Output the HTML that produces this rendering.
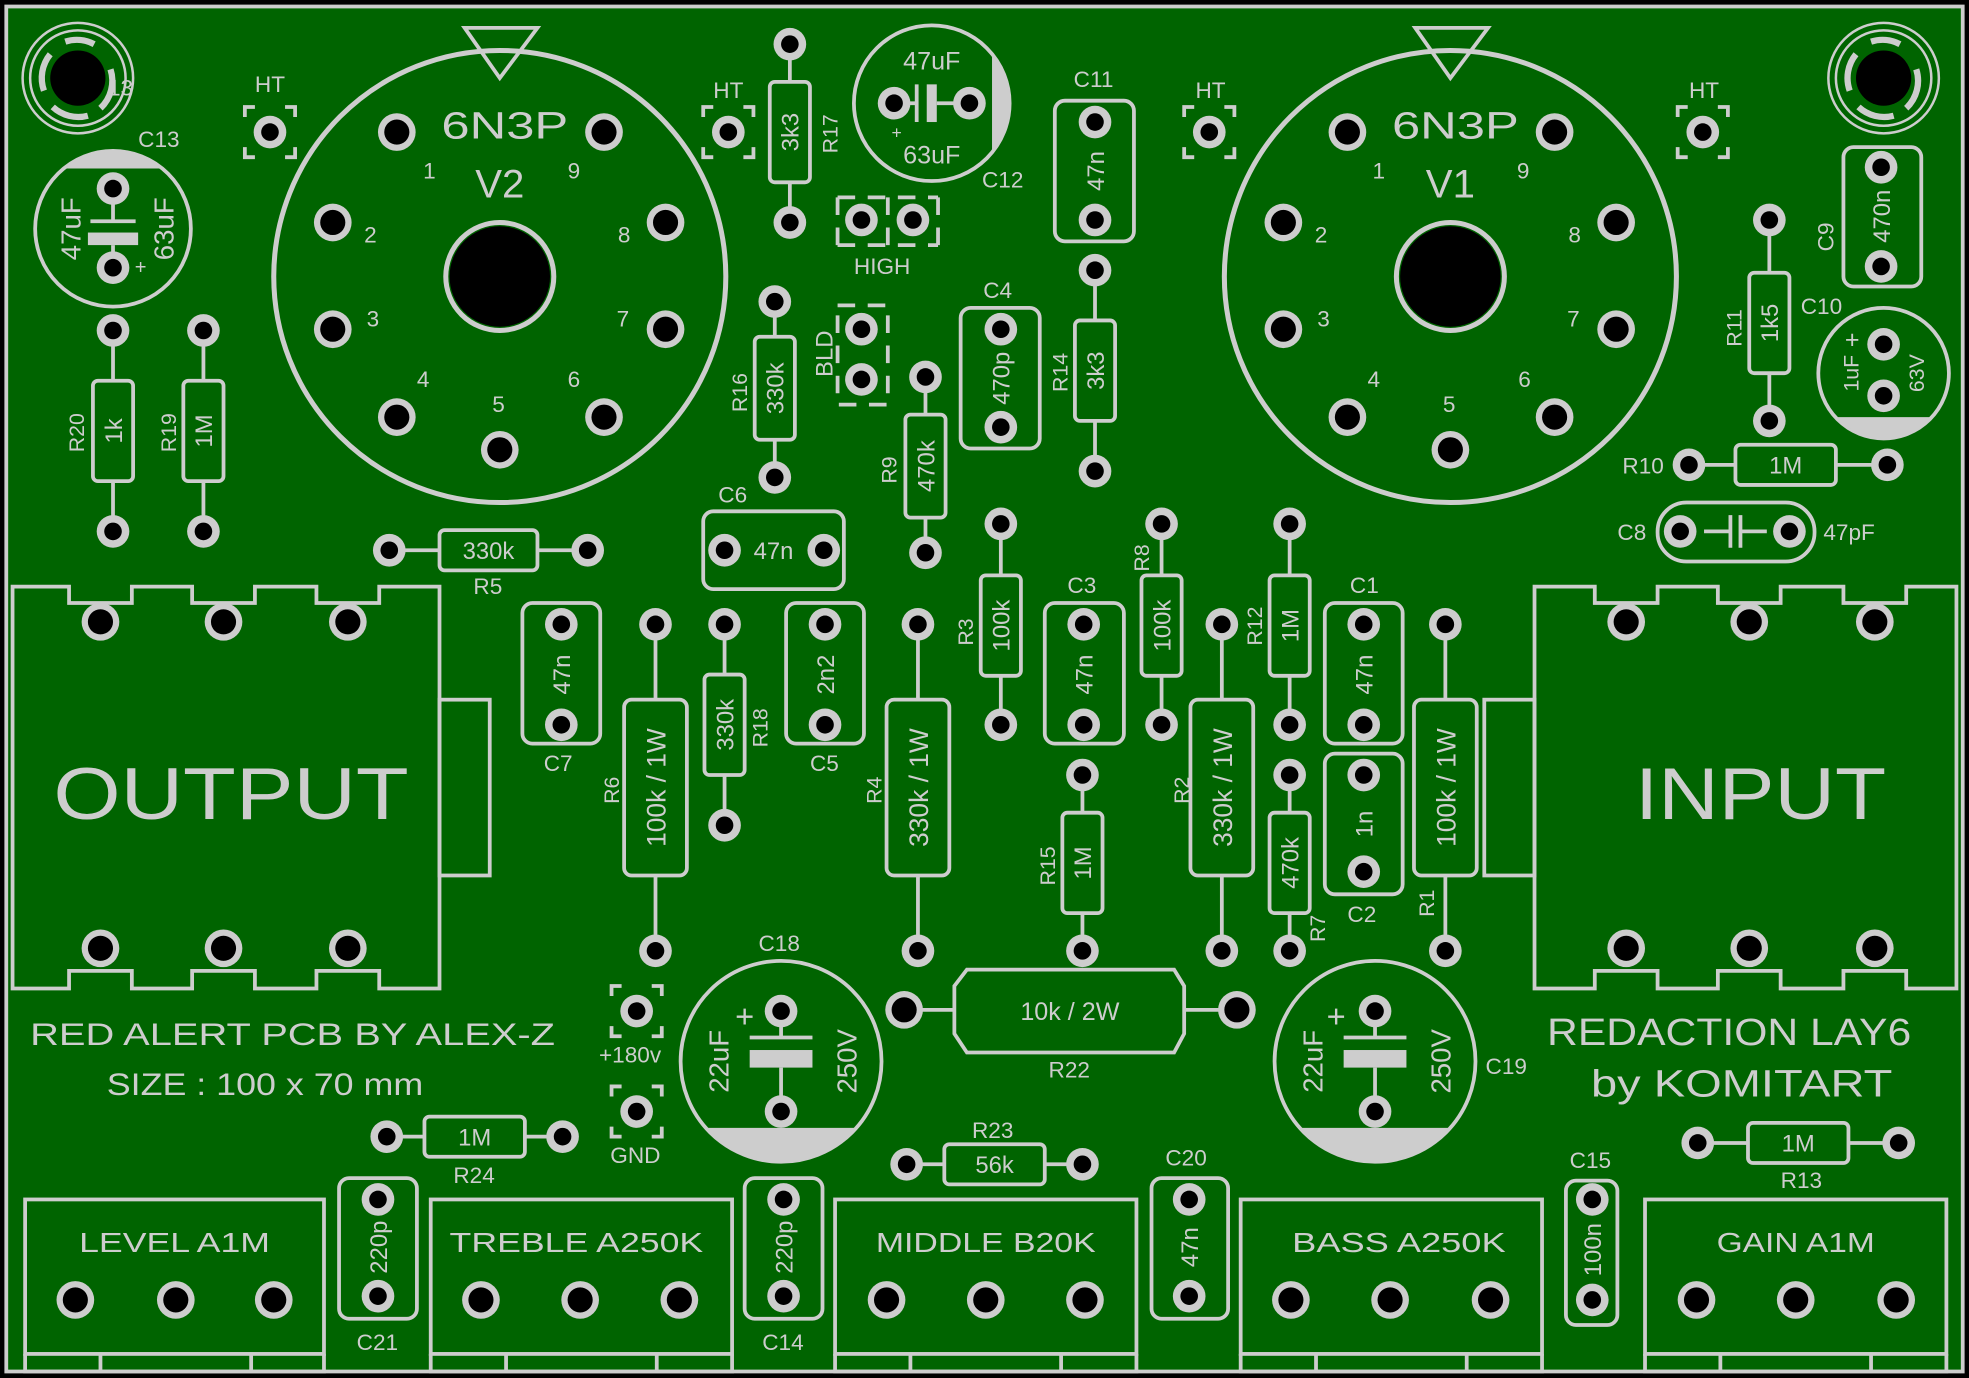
<!DOCTYPE html>
<html><head><meta charset="utf-8"><style>
html,body{margin:0;padding:0;background:#000}
svg{display:block}
text{font-family:"Liberation Sans","DejaVu Sans",sans-serif;fill:#cdcdcd}
</style></head><body>
<svg width="1969" height="1378" viewBox="0 0 1568 1097" xmlns="http://www.w3.org/2000/svg">
<defs>
<g id="p"><circle r="13" fill="#cdcdcd"/><circle r="7" fill="#000"/></g>
<g id="bp"><circle r="15" fill="#cdcdcd"/><circle r="10" fill="#000"/></g>
<g id="sq"><use href="#p"/><path d="M-20,-12V-20H-12M12,-20H20V-12M20,12V20H12M-12,20H-20V12" fill="none" stroke="#cdcdcd" stroke-width="3"/></g>
</defs>
<rect width="1568" height="1097" fill="#000"/>
<rect x="5" y="5" width="1558" height="1087" fill="#006400" stroke="#cdcdcd" stroke-width="3"/>
<g fill="none" stroke="#cdcdcd" stroke-width="3">
<circle cx="62" cy="62" r="44" stroke-width="2"/><circle cx="62" cy="62" r="38" stroke-width="2"/>
<circle cx="1500" cy="62" r="44" stroke-width="2"/><circle cx="1500" cy="62" r="38" stroke-width="2"/>
<path d="M52,33A30,30 0 0 1 75,35M88,55A30,30 0 0 1 80,86M70,92A30,30 0 0 1 42,85M35,72A30,30 0 0 1 40,43" stroke-width="5"/>
<path d="M1490,33A30,30 0 0 1 1513,35M1526,55A30,30 0 0 1 1518,86M1508,92A30,30 0 0 1 1480,85M1473,72A30,30 0 0 1 1478,43" stroke-width="5"/>
<circle cx="398" cy="220" r="180" stroke-width="4"/><circle cx="398" cy="220" r="43" stroke-width="4"/>
<circle cx="1155" cy="220" r="180" stroke-width="4"/><circle cx="1155" cy="220" r="43" stroke-width="4"/>
<path d="M370,22H428L398,62Z M1127,22H1185L1155,62Z"/>
<path d="M10,467H55V480H105V467H153V480H203V467H252V480H302V467H350V787H302V773H252V787H203V773H153V787H105V773H55V787H10Z"/>
<rect x="350" y="557" width="40" height="140"/>
<path d="M1222,467H1270V480H1320V467H1368V480H1418V467H1468V480H1518V467H1558V787H1518V773H1468V787H1418V773H1368V787H1320V773H1270V787H1222Z"/>
<rect x="1182" y="557" width="40" height="140"/>
<rect x="20" y="955" width="238" height="123"/><path d="M20,1078V1092H258V1078M80,1078V1092M200,1078V1092"/>
<rect x="343" y="955" width="240" height="123"/><path d="M343,1078V1092H583V1078M403,1078V1092M523,1078V1092"/>
<rect x="665" y="955" width="240" height="123"/><path d="M665,1078V1092H905V1078M725,1078V1092M845,1078V1092"/>
<rect x="988" y="955" width="240" height="123"/><path d="M988,1078V1092H1228V1078M1048,1078V1092M1168,1078V1092"/>
<rect x="1310" y="955" width="240" height="123"/><path d="M1310,1078V1092H1550V1078M1370,1078V1092M1490,1078V1092"/>
<path d="M90,263V423M162,263V423M629,35V177M617,240V380M737,300V440M872,215V375M1409,175V335M797,417V577M925,417V577M1027,417V577M577,497V657M862,617V757M1027,617V757M522,497V757M731,497V757M973,497V757M1151,497V757"/>
<path d="M310,438H468M1345,370H1503M308,905H448M722,927H862M1352,910H1512M720,804H985" stroke-width="3"/>
</g>
<g fill="#006400" stroke="#cdcdcd" stroke-width="3">
<rect x="74" y="303" width="32" height="80" rx="4"/><rect x="146" y="303" width="32" height="80" rx="4"/>
<rect x="613" y="65" width="32" height="80" rx="4"/><rect x="601" y="268" width="32" height="82" rx="4"/>
<rect x="721" y="330" width="32" height="82" rx="4"/><rect x="856" y="255" width="32" height="80" rx="4"/>
<rect x="1393" y="217" width="32" height="80" rx="4"/><rect x="781" y="458" width="32" height="80" rx="4"/>
<rect x="909" y="458" width="32" height="80" rx="4"/><rect x="1011" y="458" width="32" height="80" rx="4"/>
<rect x="561" y="537" width="32" height="80" rx="4"/><rect x="846" y="647" width="32" height="80" rx="4"/>
<rect x="1011" y="647" width="32" height="80" rx="4"/>
<rect x="497" y="557" width="50" height="140" rx="6"/><rect x="706" y="557" width="50" height="140" rx="6"/>
<rect x="948" y="557" width="50" height="140" rx="6"/><rect x="1126" y="557" width="50" height="140" rx="6"/>
<rect x="350" y="422" width="78" height="32" rx="4"/><rect x="1382" y="354" width="80" height="32" rx="4"/>
<rect x="338" y="889" width="80" height="32" rx="4"/><rect x="752" y="911" width="80" height="32" rx="4"/>
<rect x="1392" y="894" width="80" height="32" rx="4"/>
<path d="M770,772H935L943,785V823L935,838H770L760,823V785Z"/>
<rect x="840" y="80" width="63" height="112" rx="8"/><rect x="1468" y="117" width="62" height="111" rx="8"/>
<rect x="765" y="245" width="63" height="112" rx="8"/><rect x="560" y="407" width="112" height="62" rx="8"/>
<rect x="416" y="480" width="62" height="112" rx="8"/><rect x="626" y="480" width="62" height="112" rx="8"/>
<rect x="832" y="480" width="63" height="112" rx="8"/><rect x="1055" y="480" width="62" height="112" rx="8"/>
<rect x="1055" y="600" width="62" height="112" rx="8"/><rect x="270" y="938" width="62" height="112" rx="8"/>
<rect x="593" y="938" width="62" height="112" rx="8"/><rect x="917" y="938" width="61" height="112" rx="8"/>
<rect x="1247" y="940" width="41" height="115" rx="8"/>
<rect x="1320" y="400" width="125" height="47" rx="23"/>
<circle cx="742" cy="82" r="62"/><circle cx="90" cy="182" r="62"/><circle cx="1500" cy="297" r="52"/>
<circle cx="622" cy="845" r="80"/><circle cx="1095" cy="845" r="80"/>
</g>
<g fill="#cdcdcd">
<path d="M790,42A62,62 0 0 1 790,122Z"/>
<path d="M52,134A62,62 0 0 1 128,134Z"/>
<path d="M1462,332A52,52 0 0 0 1538,332Z"/>
<path d="M562,898A80,80 0 0 0 682,898Z"/>
<path d="M1035,898A80,80 0 0 0 1155,898Z"/>
<rect x="597" y="836" width="50" height="14"/><rect x="1070" y="836" width="50" height="14"/>
<rect x="70" y="185" width="40" height="10"/><rect x="738" y="67" width="8" height="30"/>
</g>
<g stroke="#cdcdcd" stroke-width="3" fill="none">
<path d="M597,826H647M622,805V826M622,850V885M1070,826H1120M1095,805V826M1095,850V885M72,176H108M90,150V176M90,195V213M730,67V97M712,82H730M746,82H772"/>
<path d="M1357,423H1378M1378,410V436M1386,410V436M1386,423H1407"/>
<path d="M667,157V195M747,157V195M707,157V195M667,157H747M667,195H747" stroke-dasharray="14 10"/>
<path d="M667,243H707V322H667Z" stroke-dasharray="14 10"/>
</g>
<circle cx="62" cy="62" r="22" fill="#000"/><circle cx="1500" cy="62" r="22" fill="#000"/>
<circle cx="398" cy="220" r="40" fill="#000"/><circle cx="1155" cy="220" r="40" fill="#000"/>
<g>
<use href="#bp" x="316" y="105"/><use href="#bp" x="481" y="105"/><use href="#bp" x="265" y="177"/><use href="#bp" x="530" y="177"/>
<use href="#bp" x="265" y="262"/><use href="#bp" x="530" y="262"/><use href="#bp" x="316" y="332"/><use href="#bp" x="481" y="332"/><use href="#bp" x="398" y="358"/>
<use href="#bp" x="1073" y="105"/><use href="#bp" x="1238" y="105"/><use href="#bp" x="1022" y="177"/><use href="#bp" x="1287" y="177"/>
<use href="#bp" x="1022" y="262"/><use href="#bp" x="1287" y="262"/><use href="#bp" x="1073" y="332"/><use href="#bp" x="1238" y="332"/><use href="#bp" x="1155" y="358"/>
<use href="#bp" x="80" y="495"/><use href="#bp" x="178" y="495"/><use href="#bp" x="277" y="495"/>
<use href="#bp" x="80" y="755"/><use href="#bp" x="178" y="755"/><use href="#bp" x="277" y="755"/>
<use href="#bp" x="1295" y="495"/><use href="#bp" x="1393" y="495"/><use href="#bp" x="1493" y="495"/>
<use href="#bp" x="1295" y="755"/><use href="#bp" x="1393" y="755"/><use href="#bp" x="1493" y="755"/>
<use href="#bp" x="60" y="1035"/><use href="#bp" x="140" y="1035"/><use href="#bp" x="218" y="1035"/>
<use href="#bp" x="383" y="1035"/><use href="#bp" x="462" y="1035"/><use href="#bp" x="541" y="1035"/>
<use href="#bp" x="706" y="1035"/><use href="#bp" x="785" y="1035"/><use href="#bp" x="864" y="1035"/>
<use href="#bp" x="1028" y="1035"/><use href="#bp" x="1107" y="1035"/><use href="#bp" x="1187" y="1035"/>
<use href="#bp" x="1351" y="1035"/><use href="#bp" x="1430" y="1035"/><use href="#bp" x="1510" y="1035"/>
<use href="#bp" x="720" y="804"/><use href="#bp" x="985" y="804"/>
</g>
<g>
<use href="#p" x="90" y="263"/><use href="#p" x="90" y="423"/><use href="#p" x="162" y="263"/><use href="#p" x="162" y="423"/>
<use href="#p" x="629" y="35"/><use href="#p" x="629" y="177"/><use href="#p" x="617" y="240"/><use href="#p" x="617" y="380"/>
<use href="#p" x="737" y="300"/><use href="#p" x="737" y="440"/><use href="#p" x="872" y="215"/><use href="#p" x="872" y="375"/>
<use href="#p" x="1409" y="175"/><use href="#p" x="1409" y="335"/><use href="#p" x="797" y="417"/><use href="#p" x="797" y="577"/>
<use href="#p" x="925" y="417"/><use href="#p" x="925" y="577"/><use href="#p" x="1027" y="417"/><use href="#p" x="1027" y="577"/>
<use href="#p" x="577" y="497"/><use href="#p" x="577" y="657"/><use href="#p" x="862" y="617"/><use href="#p" x="862" y="757"/>
<use href="#p" x="1027" y="617"/><use href="#p" x="1027" y="757"/><use href="#p" x="522" y="497"/><use href="#p" x="522" y="757"/>
<use href="#p" x="731" y="497"/><use href="#p" x="731" y="757"/><use href="#p" x="973" y="497"/><use href="#p" x="973" y="757"/>
<use href="#p" x="1151" y="497"/><use href="#p" x="1151" y="757"/>
<use href="#p" x="310" y="438"/><use href="#p" x="468" y="438"/><use href="#p" x="1345" y="370"/><use href="#p" x="1503" y="370"/>
<use href="#p" x="308" y="905"/><use href="#p" x="448" y="905"/><use href="#p" x="722" y="927"/><use href="#p" x="862" y="927"/>
<use href="#p" x="1352" y="910"/><use href="#p" x="1512" y="910"/>
<use href="#p" x="872" y="97"/><use href="#p" x="872" y="175"/><use href="#p" x="1498" y="133"/><use href="#p" x="1498" y="212"/>
<use href="#p" x="797" y="262"/><use href="#p" x="797" y="340"/><use href="#p" x="577" y="438"/><use href="#p" x="656" y="438"/>
<use href="#p" x="447" y="497"/><use href="#p" x="447" y="577"/><use href="#p" x="657" y="497"/><use href="#p" x="657" y="577"/>
<use href="#p" x="863" y="497"/><use href="#p" x="863" y="577"/><use href="#p" x="1086" y="497"/><use href="#p" x="1086" y="577"/>
<use href="#p" x="1086" y="617"/><use href="#p" x="1086" y="694"/><use href="#p" x="301" y="955"/><use href="#p" x="301" y="1032"/>
<use href="#p" x="624" y="955"/><use href="#p" x="624" y="1032"/><use href="#p" x="947" y="955"/><use href="#p" x="947" y="1032"/>
<use href="#p" x="1268" y="955"/><use href="#p" x="1268" y="1035"/><use href="#p" x="1338" y="423"/><use href="#p" x="1425" y="423"/>
<use href="#p" x="712" y="82"/><use href="#p" x="772" y="82"/><use href="#p" x="90" y="150"/><use href="#p" x="90" y="213"/>
<use href="#p" x="1500" y="274"/><use href="#p" x="1500" y="315"/><use href="#p" x="622" y="805"/><use href="#p" x="622" y="885"/>
<use href="#p" x="1095" y="805"/><use href="#p" x="1095" y="885"/>
<use href="#p" x="686" y="175"/><use href="#p" x="727" y="175"/><use href="#p" x="686" y="262"/><use href="#p" x="686" y="302"/>
<use href="#sq" x="215" y="105"/><use href="#sq" x="580" y="105"/><use href="#sq" x="963" y="105"/><use href="#sq" x="1356" y="105"/>
<use href="#sq" x="507" y="805"/><use href="#sq" x="507" y="885"/>
</g>
<g font-size="18">
<text x="203" y="73">HT</text><text x="568" y="78">HT</text><text x="952" y="78">HT</text><text x="1345" y="78">HT</text>
<text x="110" y="117">C13</text><text x="855" y="69">C11</text><text x="782" y="149">C12</text><text x="783" y="237">C4</text>
<text x="1432" y="188" transform="rotate(-90 1452 180)">C9</text><text x="1434" y="250">C10</text>
<text x="572" y="400">C6</text><text x="850" y="472">C3</text><text x="1075" y="472">C1</text>
<text x="433" y="614">C7</text><text x="645" y="614">C5</text><text x="1073" y="734">C2</text>
<text x="604" y="757">C18</text><text x="1183" y="855">C19</text><text x="928" y="928">C20</text><text x="1250" y="930">C15</text>
<text x="284" y="1075">C21</text><text x="607" y="1075">C14</text><text x="1288" y="430">C8</text><text x="1452" y="430">47pF</text>
<text x="377" y="473">R5</text><text x="1292" y="377">R10</text><text x="361" y="942">R24</text><text x="774" y="906">R23</text>
<text x="1418" y="946">R13</text><text x="835" y="858">R22</text>
<text x="477" y="846">+180v</text>
<text x="486" y="926">GND</text>
<text x="680" y="218">HIGH</text>
</g>
<g font-size="17">
<text transform="translate(67,360) rotate(-90)">R20</text><text transform="translate(140,360) rotate(-90)">R19</text>
<text transform="translate(667,122) rotate(-90)">R17</text><text transform="translate(595,328) rotate(-90)">R16</text>
<text transform="translate(714,385) rotate(-90)">R9</text><text transform="translate(850,312) rotate(-90)">R14</text>
<text transform="translate(1387,276) rotate(-90)">R11</text><text transform="translate(775,514) rotate(-90)">R3</text>
<text transform="translate(915,455) rotate(-90)">R8</text><text transform="translate(1005,514) rotate(-90)">R12</text>
<text transform="translate(611,595) rotate(-90)">R18</text><text transform="translate(840,705) rotate(-90)">R15</text>
<text transform="translate(1055,750) rotate(-90)">R7</text><text transform="translate(493,640) rotate(-90)">R6</text>
<text transform="translate(702,640) rotate(-90)">R4</text><text transform="translate(947,640) rotate(-90)">R2</text>
<text transform="translate(1142,730) rotate(-90)">R1</text><text transform="translate(663,300) rotate(-90)" font-size="19">BLD</text>
</g>
<g font-size="19" text-anchor="middle">
<text transform="translate(97,343) rotate(-90)">1k</text><text transform="translate(169,343) rotate(-90)">1M</text>
<text transform="translate(636,105) rotate(-90)">3k3</text><text transform="translate(624,309) rotate(-90)">330k</text>
<text transform="translate(744,371) rotate(-90)">470k</text><text transform="translate(879,295) rotate(-90)">3k3</text>
<text transform="translate(1416,257) rotate(-90)">1k5</text><text transform="translate(804,498) rotate(-90)">100k</text>
<text transform="translate(932,498) rotate(-90)">100k</text><text transform="translate(1034,498) rotate(-90)">1M</text>
<text transform="translate(584,577) rotate(-90)">330k</text><text transform="translate(869,687) rotate(-90)">1M</text>
<text transform="translate(1034,687) rotate(-90)">470k</text>
<text transform="translate(530,627) rotate(-90)" font-size="21">100k / 1W</text>
<text transform="translate(739,627) rotate(-90)" font-size="21">330k / 1W</text>
<text transform="translate(981,627) rotate(-90)" font-size="21">330k / 1W</text>
<text transform="translate(1159,627) rotate(-90)" font-size="21">100k / 1W</text>
<text x="389" y="445">330k</text><text x="1422" y="377">1M</text><text x="378" y="912">1M</text>
<text x="792" y="934">56k</text><text x="1432" y="917">1M</text><text x="852" y="812" font-size="20">10k / 2W</text>
<text transform="translate(879,136) rotate(-90)">47n</text><text transform="translate(1505,172) rotate(-90)">470n</text>
<text transform="translate(804,301) rotate(-90)">470p</text><text x="616" y="445">47n</text>
<text transform="translate(454,537) rotate(-90)">47n</text><text transform="translate(664,537) rotate(-90)">2n2</text>
<text transform="translate(870,537) rotate(-90)">47n</text><text transform="translate(1093,537) rotate(-90)">47n</text>
<text transform="translate(1093,656) rotate(-90)">1n</text><text transform="translate(308,993) rotate(-90)">220p</text>
<text transform="translate(631,993) rotate(-90)">220p</text><text transform="translate(954,993) rotate(-90)">47n</text>
<text transform="translate(1275,995) rotate(-90)">100n</text>
<text x="742" y="55" font-size="20">47uF</text><text x="742" y="130" font-size="20">63uF</text><text x="714" y="110" font-size="14">+</text>
<text transform="translate(64,182) rotate(-90)" font-size="22">47uF</text><text transform="translate(138,182) rotate(-90)" font-size="22">63uF</text>
<text x="112" y="218" font-size="16">+</text>
<text transform="translate(1480,297) rotate(-90)" font-size="17">1uF</text><text transform="translate(1532,297) rotate(-90)" font-size="17">63V</text>
<text x="1475" y="277" font-size="20">+</text>
<text transform="translate(580,845) rotate(-90)" font-size="22">22uF</text><text transform="translate(682,845) rotate(-90)" font-size="22">250V</text>
<text x="593" y="818" font-size="26">+</text>
<text transform="translate(1053,845) rotate(-90)" font-size="22">22uF</text><text transform="translate(1155,845) rotate(-90)" font-size="22">250V</text>
<text x="1064" y="818" font-size="26">+</text>
<text x="96" y="76" font-size="18">13</text>
<text x="139" y="997" font-size="22" textLength="152" lengthAdjust="spacingAndGlyphs">LEVEL  A1M</text>
<text x="459" y="997" font-size="22" textLength="202" lengthAdjust="spacingAndGlyphs">TREBLE  A250K</text>
<text x="785" y="997" font-size="22" textLength="175" lengthAdjust="spacingAndGlyphs">MIDDLE  B20K</text>
<text x="1114" y="997" font-size="22" textLength="170" lengthAdjust="spacingAndGlyphs">BASS  A250K</text>
<text x="1430" y="997" font-size="22" textLength="126" lengthAdjust="spacingAndGlyphs">GAIN  A1M</text>
<text x="184" y="652" font-size="58" textLength="283" lengthAdjust="spacingAndGlyphs">OUTPUT</text>
<text x="1402" y="652" font-size="58" textLength="200" lengthAdjust="spacingAndGlyphs">INPUT</text>
<text x="402" y="110" font-size="30" textLength="101" lengthAdjust="spacingAndGlyphs">6N3P</text><text x="398" y="157" font-size="32">V2</text>
<text x="1159" y="110" font-size="30" textLength="101" lengthAdjust="spacingAndGlyphs">6N3P</text><text x="1155" y="157" font-size="32">V1</text>
</g>
<g font-size="18">
<text x="337" y="142">1</text><text x="452" y="142">9</text><text x="290" y="193">2</text><text x="492" y="193">8</text>
<text x="292" y="260">3</text><text x="491" y="260">7</text><text x="332" y="308">4</text><text x="452" y="308">6</text><text x="392" y="328">5</text>
<text x="1093" y="142">1</text><text x="1208" y="142">9</text><text x="1047" y="193">2</text><text x="1249" y="193">8</text>
<text x="1049" y="260">3</text><text x="1248" y="260">7</text><text x="1089" y="308">4</text><text x="1209" y="308">6</text><text x="1149" y="328">5</text>
<text x="24" y="832" font-size="25" textLength="418" lengthAdjust="spacingAndGlyphs">RED ALERT PCB BY ALEX-Z</text>
<text x="85" y="872" font-size="25" textLength="252" lengthAdjust="spacingAndGlyphs">SIZE : 100 x 70 mm</text>
<text x="1232" y="832" font-size="30" textLength="290" lengthAdjust="spacingAndGlyphs">REDACTION LAY6</text>
<text x="1267" y="873" font-size="30" textLength="240" lengthAdjust="spacingAndGlyphs">by KOMITART</text>
</g>
</svg>
</body></html>
